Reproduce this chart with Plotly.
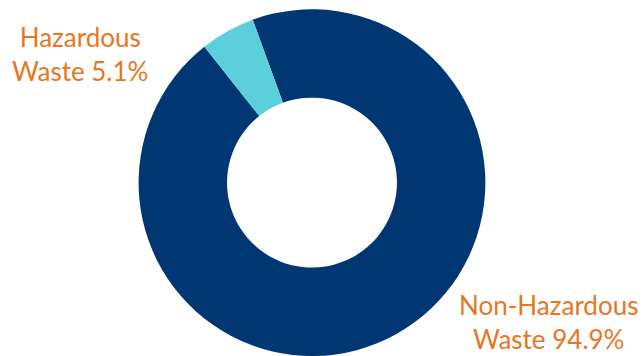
import plotly.graph_objects as go

# Waste composition by category (%)
categories = ["Non-Hazardous Waste", "Hazardous Waste"]
shares = [94.9, 5.1]
slice_colors = ["#003672", "#5bcfdc"]

# Label placement (paper coordinates) for each category
label_x = [0.853, 0.124]
label_y = [0.0, 0.848]
label_anchor = ["bottom", "middle"]

W, H = 643, 356

fig = go.Figure(
    go.Pie(
        labels=categories,
        values=shares,
        hole=0.49,
        sort=False,
        direction="clockwise",
        rotation=-20,
        marker=dict(colors=slice_colors, line=dict(width=0)),
        textinfo="none",
        hoverinfo="label+percent",
        showlegend=False,
        domain=dict(x=[0.2146, 0.7558], y=[0.0, 0.974]),
    )
)

for name, val, x, y, ya in zip(categories, shares, label_x, label_y, label_anchor):
    first, second = name.rsplit(" ", 1)
    fig.add_annotation(
        x=x, y=y, xref="paper", yref="paper",
        text=f"{first}<br>{second} {val}%",
        showarrow=False, align="center",
        xanchor="center", yanchor=ya, borderpad=0,
        font=dict(family="Lato", size=26, color="#e8761e"),
    )

fig.update_layout(
    width=W, height=H,
    margin=dict(l=0, r=0, t=0, b=0),
    paper_bgcolor="white",
    plot_bgcolor="white",
)

fig.write_html("out.html")
